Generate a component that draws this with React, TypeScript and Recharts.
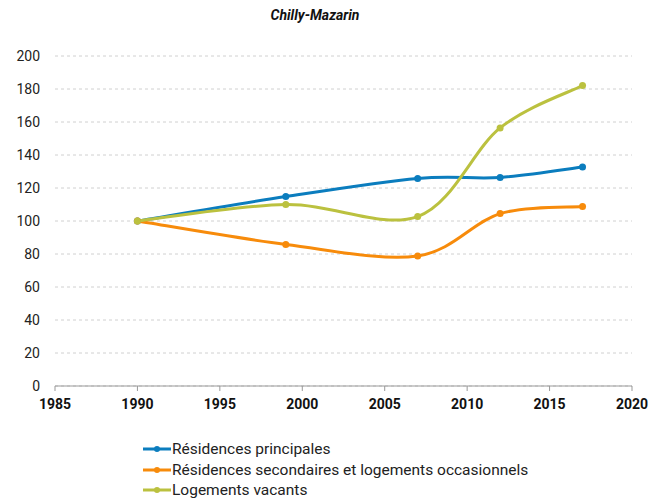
import React from "react";
import { LineChart, Line, XAxis, YAxis, CartesianGrid, Legend } from "recharts";

const years = [1990, 1999, 2007, 2012, 2017];
const principales = [100, 114.8, 125.8, 126.4, 132.7];
const secondaires = [100, 85.8, 78.8, 104.5, 108.8];
const vacants = [100, 110, 102.7, 156.4, 182.1];
const xTicks = [1985, 1990, 1995, 2000, 2005, 2010, 2015, 2020];
const yTicks = [0, 20, 40, 60, 80, 100, 120, 140, 160, 180, 200];

const series = [
  { key: "principales", name: "Résidences principales", color: "#0b7dbe" },
  { key: "secondaires", name: "Résidences secondaires et logements occasionnels", color: "#f78b0b" },
  { key: "vacants", name: "Logements vacants", color: "#bbc13f" },
];

const data = years.map((y, i) => ({
  year: y,
  principales: principales[i],
  secondaires: secondaires[i],
  vacants: vacants[i],
}));

// Catmull-Rom style smoothing (like spreadsheet smoothed lines)
const smoothCurve: any = (context: any) => {
  let pts: number[][] = [];
  return {
    areaStart() {},
    areaEnd() {},
    lineStart() {
      pts = [];
    },
    point(x: number, y: number) {
      pts.push([+x, +y]);
    },
    lineEnd() {
      if (!pts.length) return;
      context.moveTo(pts[0][0], pts[0][1]);
      for (let i = 0; i < pts.length - 1; i++) {
        const p0 = pts[i - 1] || pts[i];
        const p1 = pts[i];
        const p2 = pts[i + 1];
        const p3 = pts[i + 2] || pts[i + 1];
        context.bezierCurveTo(
          p1[0] + (p2[0] - p0[0]) / 6,
          p1[1] + (p2[1] - p0[1]) / 6,
          p2[0] - (p3[0] - p1[0]) / 6,
          p2[1] - (p3[1] - p1[1]) / 6,
          p2[0],
          p2[1]
        );
      }
    },
  };
};

const font = "Roboto, 'Noto Sans', sans-serif";

const LegendContent = (props: any) => {
  const payload = (props.payload || []).slice();
  const order = series.map((s) => s.name);
  payload.sort((a: any, b: any) => order.indexOf(a.value) - order.indexOf(b.value));
  return (
    <div style={{ fontFamily: font, fontSize: 15.5, color: "#222", paddingLeft: 143, paddingTop: 2, textAlign: "left" }}>
      {payload.map((p: any) => (
        <div key={p.value} style={{ display: "flex", alignItems: "center", height: 20.5 }}>
          <svg width={28} height={10} style={{ marginRight: 1 }}>
            <line x1={0} y1={5} x2={28} y2={5} stroke={p.color} strokeWidth={3} />
            <circle cx={14} cy={5} r={3} fill={p.color} />
          </svg>
          <span>{p.value}</span>
        </div>
      ))}
    </div>
  );
};

export default function App() {
  return (
    <div style={{ position: "absolute", left: 0, top: 0, width: 669, height: 502, background: "#fff" }}>
      <div
        style={{
          position: "absolute",
          left: 0,
          top: 7,
          width: 630,
          textAlign: "center",
          fontFamily: font,
          fontWeight: "bold",
          fontStyle: "italic",
          fontSize: 14,
          color: "#111",
        }}
      >
        Chilly-Mazarin
      </div>
      <LineChart width={669} height={502} data={data} margin={{ top: 56, right: 37, left: 0, bottom: 1 }}>
        <CartesianGrid vertical={false} stroke="#d0d0d0" strokeDasharray="3 3" />
        <XAxis
          dataKey="year"
          type="number"
          domain={[1985, 2020]}
          ticks={xTicks}
          interval={0}
          stroke="#999"
          tickSize={5}
          tickMargin={8}
          height={51}
          tick={{ fill: "#111", fontSize: 14, fontWeight: "bold", fontFamily: font }}
        />
        <YAxis
          domain={[0, 200]}
          ticks={yTicks}
          interval={0}
          axisLine={false}
          tickLine={false}
          tickSize={0}
          tickMargin={15}
          width={55}
          tick={{ fill: "#222", fontSize: 14, fontFamily: font }}
        />
        <Legend
          verticalAlign="bottom"
          align="left"
          layout="horizontal"
          wrapperStyle={{ left: 0, width: 669, height: 64 }}
          content={LegendContent}
        />
        {series.map((s) => (
          <Line
            key={s.key}
            dataKey={s.key}
            name={s.name}
            stroke={s.color}
            strokeWidth={3}
            type={smoothCurve}
            dot={{ r: 3.5, fill: s.color, stroke: s.color, strokeWidth: 0 }}
            activeDot={false}
            isAnimationActive={false}
          />
        ))}
      </LineChart>
    </div>
  );
}
